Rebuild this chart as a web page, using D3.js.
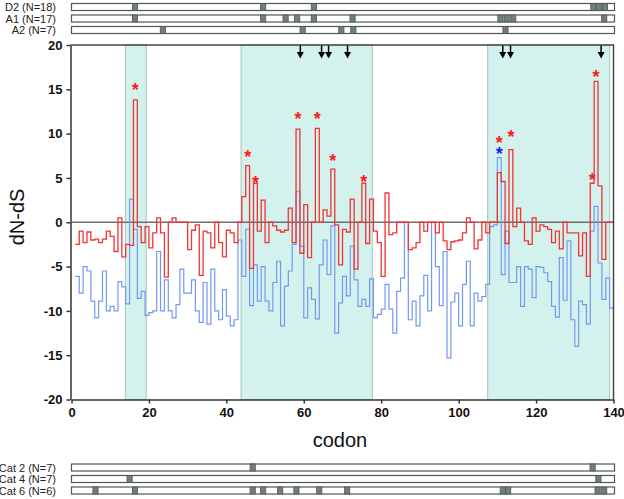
<!DOCTYPE html>
<html>
<head>
<meta charset="utf-8">
<script src="https://cdn.jsdelivr.net/npm/d3@7"></script>
<style>
  body { margin: 0; background: #fff; }
  svg { font-family: "Liberation Sans", Arial, sans-serif; }
</style>
</head>
<body>
<div id="chart"></div>
<script>
// dN-dS per codon, codons 1..139 (each step spans [i, i+1])
var redValues = [
  -2.5, -1.0, -2.3, -1.1, -2.0, -1.9, -2.3, -1.9, -1.0, -1.6,
  -3.3, 0.5, -3.9, -2.5, -2.6, 13.8, -0.5, -2.3, -0.5, -2.9,
  -1.2, 0.5, -1.2, -6.2, 0, 0.5, 0, 0, 0, -3.1,
  -0.9, -0.3, -6.0, -1.0, -1.2, -2.9, 0, -2.3, -3.9, -0.9,
  -1.2, -2.3, 0, 2.9, 6.4, -5.2, 4.4, -1.0, 2.5, -2.3,
  0, -0.4, -0.9, -1.1, -0.9, 1.6, -2.3, 10.5, -3.5, 2.0,
  -4.0, 0, 10.6, 0, 1.4, 0.7, 6.0, -0.3, -4.8, -0.8,
  -1.1, 2.6, -5.3, 0, 4.4, -2.4, 2.6, -1.0, -2.3, -6.1,
  3.3, -1.4, -1.2, 0, 0, 0, -3.1, -2.9, -2.3, 0,
  -1.0, 0, 0, -1.2, 0, -2.1, -3.1, -2.2, -2.1, -2.0,
  -1.2, 0.5, 0, -3.0, -2.0, 0, -1.2, 0, 0, 5.6,
  4.6, -2.4, 8.2, -0.5, 1.6, 0, -2.1, -2.5, 0.5, -1.0,
  -0.3, -0.5, -0.8, -2.3, -1.0, -3.0, 0, -1.2, -1.2, -1.2,
  -3.8, -1.2, -6.1, 4.4, 15.9, 4.1, -4.2, 0, 0
];
var blueValues = [
  -6.1, -8.0, -5.0, -5.5, -8.9, -10.8, -8.9, -5.5, -10.0, -9.5,
  -10.0, -6.7, -7.3, -9.2, 2.6, -0.8, -8.6, -7.8, -10.5, -10.2,
  -10.0, -3.3, -10.0, -6.5, -10.0, -10.8, -9.3, -5.3, -8.0, -8.0,
  -6.5, -10.0, -11.3, -6.8, -11.5, -5.3, -10.0, -11.0, -7.6, -10.6,
  -11.7, -11.0, -2.0, -6.1, -0.8, -9.4, -4.8, -8.9, -5.0, -8.9,
  -10.0, -6.8, -4.4, -11.7, -7.2, -5.5, -2.5, 3.5, -2.7, -10.8,
  -7.4, -8.7, -10.9, -4.8, -2.0, -5.9, -0.4, -12.5, -9.1, -6.1,
  -8.3, -2.7, -6.5, -9.5, -8.7, -9.5, -6.4, -10.8, -10.4, -9.8,
  -7.0, -9.8, -12.5, -7.8, -6.3, 0, -11.0, -8.9, -11.7, -8.3,
  -6.0, -10.0, 0, -5.0, -9.4, -3.3, -15.3, -9.0, -8.0, -11.7,
  -7.0, -4.4, -11.7, -8.0, -8.9, -8.4, -7.0, -0.5, -0.3, 7.3,
  -5.9, -1.0, -6.8, -6.8, -5.0, -9.5, -5.0, -5.3, -8.5, -5.0,
  -5.1, -5.7, -6.7, -9.5, -10.7, -4.0, -8.8, -2.1, -11.0, -14.0,
  -8.9, -9.3, -11.5, -1.0, 1.8, -4.6, -8.7, -6.3, -9.7
];

// shaded regions [start, end] in codons
var regions = [[13.9, 19.3], [43.8, 77.7], [107.5, 139]];

// significance asterisks: codon, label height (dN-dS units), series
var starCodons = [16, 45, 47, 58, 63, 67, 75, 110, 110, 113, 134, 135];
var starLevels = [15.4, 7.8, 4.9, 12.1, 12.1, 7.4, 5.0, 9.4, 8.1, 10.1, 5.2, 16.8];
var starSeries = ["red", "red", "red", "red", "red", "red", "red", "red", "blue", "red", "red", "red"];

// arrows at top of plot (codon positions)
var arrowCodons = [59.1, 64.6, 66.4, 71.3, 111.4, 113.4, 136.8];

// tracks above and below
var topTracks = [
  { label: "D2 (N=18)", sites: [16.4, 49.5, 62.6, 134.8, 136.3, 137.8] },
  { label: "A1 (N=17)", sites: [16.4, 49.5, 55.3, 58.3, 62.6, 72.6, 110.8, 112.4, 114.1, 137.6] },
  { label: "A2 (N=7)", sites: [23.6, 59.7, 69.7, 72.8, 112.1] }
];
var bottomTracks = [
  { label: "Cat 2 (N=7)", sites: [46.8, 134.6] },
  { label: "Cat 4 (N=7)", sites: [15.0, 136.1] },
  { label: "Cat 6 (N=6)", sites: [6.2, 16.4, 46.8, 49.5, 53.9, 58.1, 64.0, 71.2, 111.4, 112.8, 135.9, 137.6] }
];

var yTicks = [-20, -15, -10, -5, 0, 5, 10, 15, 20];
var xTicks = [0, 20, 40, 60, 80, 100, 120, 140];

var width = 624, height = 499;

var svg = d3.select("#chart").append("svg")
  .attr("width", width)
  .attr("height", height);

var x = d3.scaleLinear().domain([0, 140]).range([71.5, 613.5]);
var y = d3.scaleLinear().domain([-20, 20]).range([399.5, 45]);

// shaded regions
svg.selectAll(".region")
  .data(regions)
  .enter().append("rect")
  .attr("class", "region")
  .attr("x", function (d) { return x(d[0]); })
  .attr("y", y(20))
  .attr("width", function (d) { return x(d[1]) - x(d[0]); })
  .attr("height", y(-20) - y(20))
  .style("fill", "#d4f2ed")
  .style("stroke", "#a9c3bf")
  .style("stroke-width", 1);

// zero line
svg.append("line")
  .attr("x1", x(0)).attr("x2", x(140))
  .attr("y1", y(0)).attr("y2", y(0))
  .style("stroke", "#6e6e6e")
  .style("stroke-width", 1.4);

function stepPoints(values) {
  var pts = values.map(function (v, i) { return [i + 1, v]; });
  pts.push([values.length + 1, values[values.length - 1]]);
  return pts;
}

var line = d3.line()
  .x(function (d) { return x(d[0]); })
  .y(function (d) { return y(d[1]); })
  .curve(d3.curveStepAfter);

svg.append("path")
  .datum(stepPoints(blueValues))
  .attr("d", line)
  .style("fill", "none")
  .style("stroke", "#7399ee")
  .style("stroke-width", 1.2);

svg.append("path")
  .datum(stepPoints(redValues))
  .attr("d", line)
  .style("fill", "none")
  .style("stroke", "#f03434")
  .style("stroke-width", 1.3);

// asterisks
svg.selectAll(".star")
  .data(starCodons)
  .enter().append("text")
  .attr("class", "star")
  .attr("x", function (d) { return x(d + 0.5); })
  .attr("y", function (d, i) { return y(starLevels[i]) + 10; })
  .attr("text-anchor", "middle")
  .style("font-size", "18px")
  .style("font-weight", "bold")
  .style("fill", function (d, i) { return starSeries[i] === "red" ? "#ff1a1a" : "#1a1aff"; })
  .text("*");

// arrows
var arrows = svg.selectAll(".arrow")
  .data(arrowCodons)
  .enter().append("g")
  .attr("class", "arrow")
  .attr("transform", function (d) { return "translate(" + x(d) + "," + y(20) + ")"; });
arrows.append("line")
  .attr("x1", 0).attr("x2", 0).attr("y1", 0).attr("y2", 8)
  .style("stroke", "#000").style("stroke-width", 1.5);
arrows.append("path")
  .attr("d", "M-3.5,7 L3.5,7 L0,13.5 Z")
  .style("fill", "#000");

// axes
var yAxis = d3.axisLeft(y)
  .tickValues(yTicks)
  .tickSize(4)
  .tickSizeOuter(0)
  .tickPadding(4)
  .tickFormat(function (d) { return String(d); });
var xAxis = d3.axisBottom(x)
  .tickValues(xTicks)
  .tickSize(4)
  .tickSizeOuter(0)
  .tickPadding(4)
  .tickFormat(function (d) { return String(d); });

var gy = svg.append("g")
  .attr("transform", "translate(" + (x(0) - 1) + ",0)")
  .call(yAxis);
var gx = svg.append("g")
  .attr("transform", "translate(0," + y(-20) + ")")
  .call(xAxis);

[gx, gy].forEach(function (g) {
  g.selectAll("path, line").style("stroke", "#333").style("stroke-width", 1.5);
  g.selectAll("text")
    .style("font-family", "'Liberation Sans', Arial, sans-serif")
    .style("font-size", "13px")
    .style("font-weight", "bold")
    .style("fill", "#111");
});

// frame top and right
svg.append("path")
  .attr("d", "M" + (x(0) - 1) + "," + y(20) + " L" + x(140) + "," + y(20) + " L" + x(140) + "," + y(-20))
  .style("fill", "none")
  .style("stroke", "#444")
  .style("stroke-width", 1.5);

// axis titles
svg.append("text")
  .attr("x", 340)
  .attr("y", 447)
  .attr("text-anchor", "middle")
  .style("font-size", "20px")
  .style("fill", "#111")
  .text("codon");

svg.append("text")
  .attr("transform", "translate(24," + 217 + ") rotate(-90)")
  .attr("text-anchor", "middle")
  .style("font-size", "20px")
  .style("fill", "#111")
  .text("dN-dS");

// tracks
function drawTracks(tracks, top0) {
  tracks.forEach(function (t, k) {
    var ty = top0 + k * 11.5;
    var g = svg.append("g");
    g.append("rect")
      .attr("x", x(0))
      .attr("y", ty)
      .attr("width", x(140) + 1 - x(0))
      .attr("height", 7)
      .style("fill", "#fff")
      .style("stroke", "#555")
      .style("stroke-width", 1.2);
    g.selectAll(".site")
      .data(t.sites)
      .enter().append("rect")
      .attr("x", function (d) { return x(d) - 2.6; })
      .attr("y", ty)
      .attr("width", 5.2)
      .attr("height", 7)
      .style("fill", "#707e7e")
      .style("stroke", "#4d5757")
      .style("stroke-width", 0.8);
    g.append("text")
      .attr("x", 56)
      .attr("y", ty + 7.5)
      .attr("text-anchor", "end")
      .style("font-size", "11px")
      .style("fill", "#222")
      .text(t.label);
  });
}
drawTracks(topTracks, 3.5);
drawTracks(bottomTracks, 464);
</script>
</body>
</html>
